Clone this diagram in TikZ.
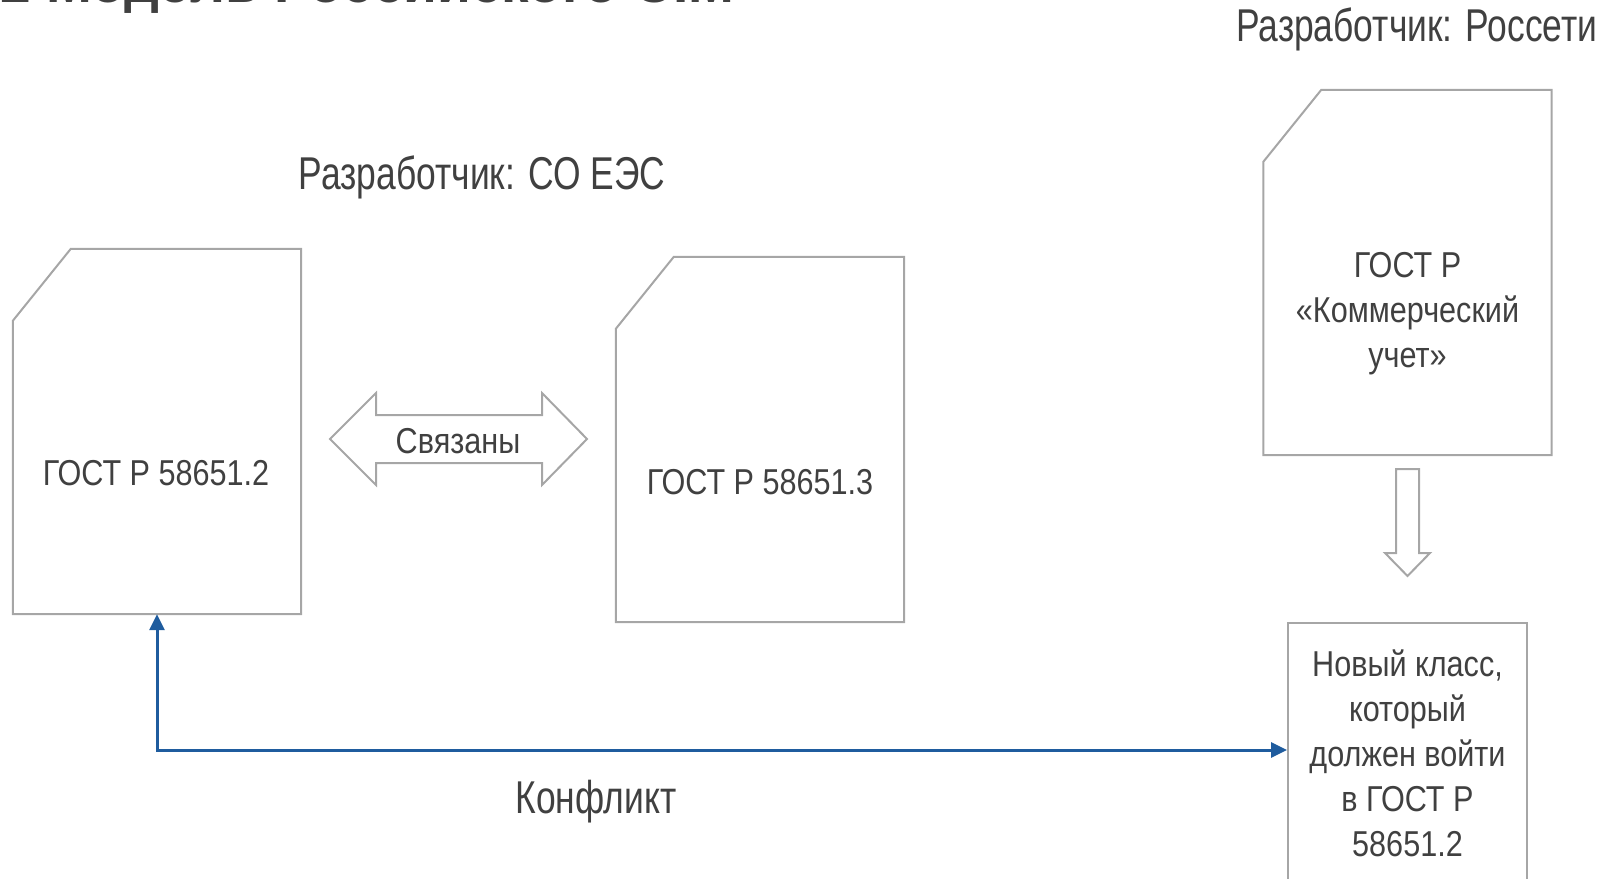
\documentclass[tikz,border=0pt]{standalone}
\usepackage{fontspec}
\setmainfont{Liberation Sans}
\newfontfamily\gostfont[FakeStretch=0.85]{Liberation Sans}
\newfontfamily\devfont[FakeStretch=0.77]{Liberation Sans}
\usetikzlibrary{arrows.meta, calc, positioning}

\definecolor{framegray}{HTML}{A6A6A6}
\definecolor{textgray}{HTML}{404040}
\definecolor{conflictblue}{HTML}{1F5C9E}

\tikzset{
  docframe/.style={draw=framegray, line width=2pt, line join=miter},
  docbox/.style={inner sep=0pt, minimum width=288pt, minimum height=365pt},
  gosttext/.style={text=textgray, font=\gostfont\fontsize{36}{45}\selectfont, align=center},
  devtext/.style={text=textgray, font=\devfont\fontsize{46}{55}\selectfont},
  conflict/.style={draw=conflictblue, line width=3pt,
    {Triangle[width=15pt,length=16pt]}-{Triangle[width=15pt,length=16pt]}},
}

\newcommand{\docoutline}[1]{%
  \draw[docframe] (#1.south west) -- ([yshift=-72pt]#1.north west)
    -- ([xshift=58pt]#1.north west) -- (#1.north east) -- (#1.south east) -- cycle;}

\begin{document}
\begin{tikzpicture}[x=1pt, y=-1pt]
    \clip (0,0) rectangle (1606,878);
    % title, cut by the top edge
    \node[anchor=base west, inner sep=0pt, text=textgray,
      font=\bfseries\fontsize{55}{60}\selectfont] (title) at (0,2) {2 Модель Российского CIM};

    \node[devtext, anchor=base] (devso) at (482,189) {Разработчик: СО ЕЭС};
    \node[devtext, anchor=base east] (devrs) at (1601,41) {Разработчик: Россети};

    % documents
    \node[docbox] (gost2) at (157,431.5) {};
    \node[docbox] (gost3) at (760,439.5) {};
    \node[docbox] (gostcu) at (1407.5,272.5) {};
    \docoutline{gost2}
    \docoutline{gost3}
    \docoutline{gostcu}
    \node[gosttext, anchor=base] (gost2txt) at (156,485) {ГОСТ Р 58651.2};
    \node[gosttext, anchor=base] (gost3txt) at (760,494) {ГОСТ Р 58651.3};
    \node[gosttext] (gostcutxt) at (1407.5,314) {ГОСТ Р\\«Коммерческий\\учет»};

    % linked
    \draw[docframe] (330,439) -- (376,393) -- (376,415) -- (542,415) -- (542,393)
      -- (587,439) -- (542,485) -- (542,463) -- (376,463) -- (376,485) -- cycle;
    \node[gosttext, anchor=base] (linked) at (458,453) {Связаны};

    % down arrow
    \draw[docframe] (1396,469) -- (1419,469) -- (1419,553) -- (1430,553) -- (1407.5,576)
      -- (1385,553) -- (1396,553) -- cycle;

    \node[draw=framegray, line width=2pt, gosttext, inner sep=0pt,
      minimum width=239pt, minimum height=260pt] (newcls) at (1407.5,753)
      {Новый класс,\\который\\должен войти\\в ГОСТ Р\\58651.2};

    \draw[conflict] (gost2.south) |- ([yshift=3pt]newcls.west);
    \node[devtext, anchor=base] (conflictlbl) at (596,813) {Конфликт};
\end{tikzpicture}
\end{document}
